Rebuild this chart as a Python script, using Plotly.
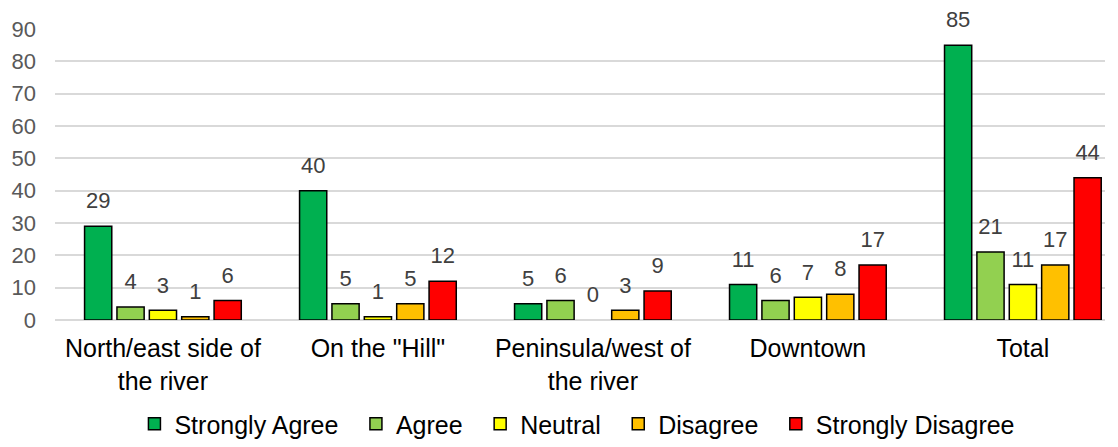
import plotly.graph_objects as go

# survey responses by location
locations = ['North/east side of<br>the river', 'On the "Hill"', 'Peninsula/west of<br>the river', 'Downtown', 'Total']
strongly_agree = [29, 40, 5, 11, 85]
agree = [4, 5, 6, 6, 21]
neutral = [3, 1, 0, 7, 11]
disagree = [1, 5, 3, 8, 17]
strongly_disagree = [6, 12, 9, 17, 44]

series = [
    ('Strongly Agree', strongly_agree, '#00B050'),
    ('Agree', agree, '#92D050'),
    ('Neutral', neutral, '#FFFF00'),
    ('Disagree', disagree, '#FFC000'),
    ('Strongly Disagree', strongly_disagree, '#FF0000'),
]

fig = go.Figure()

for i, (name, vals, color) in enumerate(series):
    # en space after the name widens the gap between legend entries
    label = name if i == len(series) - 1 else name + '\u2002'
    fig.add_trace(go.Bar(
        x=locations, y=vals, name=label, offsetgroup=name,
        # no outline on zero-height bars
        marker=dict(color=color, line=dict(color='#000000', width=[1.5 if v else 0 for v in vals])),
    ))
    # value labels: text scatter sharing the bar's slot, a transparent marker
    # gives the gap between bar top and label
    fig.add_trace(go.Scatter(
        x=locations, y=vals, offsetgroup=name, mode='markers+text',
        marker=dict(size=18, color='rgba(0,0,0,0)'),
        text=[str(v) for v in vals], textposition='top center',
        textfont=dict(size=22, color='#404040'),
        cliponaxis=False, showlegend=False, hoverinfo='skip',
    ))

# page body has an 8px margin, so the figure is 8px smaller and margins shifted
fig.update_layout(
    barmode='group', bargap=0.247, bargroupgap=0.16,
    scattermode='group', scattergap=0.247,
    width=1110, height=439,
    margin=dict(l=47, r=13, t=21, b=127),
    plot_bgcolor='white', paper_bgcolor='white',
    font=dict(family='Liberation Sans, Arial', size=20, color='#000000'),
    legend=dict(orientation='h', x=0.513, xanchor='center', xref='container',
                y=-0.016, yanchor='bottom', yref='container',
                font=dict(size=25, color='#000000'), itemwidth=30),
)
fig.update_xaxes(tickfont=dict(size=25, color='#000000'), showline=False, ticks='',
                 automargin=False, ticklabelstandoff=11, range=[-0.502, 4.382])
fig.update_yaxes(range=[0, 90], dtick=10, showgrid=True, gridcolor='#D9D9D9', gridwidth=1.5,
                 zeroline=True, zerolinecolor='#D9D9D9', zerolinewidth=1.5,
                 tickfont=dict(size=22, color='#595959'), ticklabelstandoff=18,
                 automargin=False)

fig.write_html("out.html")
